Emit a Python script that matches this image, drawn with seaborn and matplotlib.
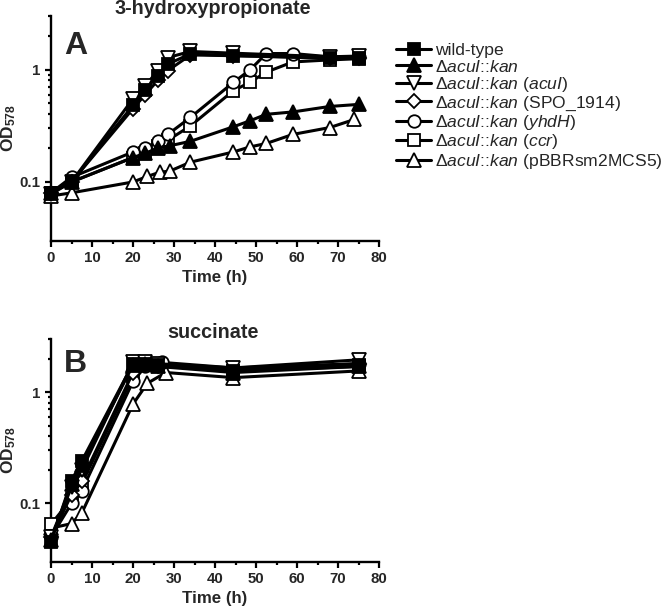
import numpy as np
import pandas as pd
import matplotlib
matplotlib.use("Agg")
import matplotlib.pyplot as plt
import matplotlib.ticker as mticker
import matplotlib.transforms as mtransforms
import seaborn as sns

# ---------------- data ----------------
labels = [
    "wild-type",
    "Δ$\\mathit{acuI}$::$\\mathit{kan}$",
    "Δ$\\mathit{acuI}$::$\\mathit{kan}$ ($\\mathit{acuI}$)",
    "Δ$\\mathit{acuI}$::$\\mathit{kan}$ (SPO_1914)",
    "Δ$\\mathit{acuI}$::$\\mathit{kan}$ ($\\mathit{yhdH}$)",
    "Δ$\\mathit{acuI}$::$\\mathit{kan}$ ($\\mathit{ccr}$)",
    "Δ$\\mathit{acuI}$::$\\mathit{kan}$ (pBBRsm2MCS5)",
]

# Panel A: 3-hydroxypropionate
a_wt_t = [0, 5, 20, 23, 26, 28.5, 34, 44.5, 68, 75]
a_wt_v = [0.08, 0.10, 0.48, 0.66, 0.88, 1.12, 1.38, 1.33, 1.26, 1.28]
a_kan_t = [0, 5, 20, 23, 26, 29, 34, 44.5, 48.5, 52.5, 59, 68, 75]
a_kan_v = [0.08, 0.10, 0.165, 0.18, 0.20, 0.21, 0.23, 0.31, 0.35, 0.40, 0.42, 0.47, 0.49]
a_acui_t = [0, 5, 20, 23, 26, 28.5, 34, 44.5, 68, 75]
a_acui_v = [0.078, 0.10, 0.55, 0.72, 0.97, 1.28, 1.45, 1.40, 1.30, 1.32]
a_spo_t = [0, 5, 20, 23, 26, 28.5, 34, 44.5, 68, 75]
a_spo_v = [0.08, 0.10, 0.45, 0.60, 0.80, 0.98, 1.35, 1.33, 1.28, 1.28]
a_yhdh_t = [0, 5, 20, 23, 26, 28.5, 34, 44.5, 48.5, 52.5, 59, 68, 75]
a_yhdh_v = [0.08, 0.11, 0.185, 0.20, 0.23, 0.265, 0.375, 0.77, 0.99, 1.39, 1.39, 1.30, 1.30]
a_ccr_t = [0, 5, 20, 23, 26, 28.5, 34, 44.5, 48.5, 52.5, 59, 68, 75]
a_ccr_v = [0.08, 0.10, 0.165, 0.18, 0.21, 0.235, 0.315, 0.65, 0.77, 0.95, 1.17, 1.22, 1.25]
a_pbbr_t = [0, 5, 20, 23.5, 26.5, 29, 34, 44.5, 48.5, 52.5, 59, 68, 74]
a_pbbr_v = [0.075, 0.08, 0.10, 0.112, 0.122, 0.125, 0.15, 0.185, 0.205, 0.22, 0.265, 0.305, 0.36]

# Panel B: succinate
b_wt_t = [0, 5, 7.5, 20, 23, 26, 44.5, 75]
b_wt_v = [0.045, 0.16, 0.24, 1.80, 1.80, 1.75, 1.55, 1.75]
b_kan_t = [0, 5, 7.5, 20, 23, 26, 44.5, 75]
b_kan_v = [0.047, 0.15, 0.22, 1.75, 1.80, 1.70, 1.50, 1.70]
b_acui_t = [0, 5, 7.5, 20, 23, 26, 44.5, 75]
b_acui_v = [0.05, 0.14, 0.20, 1.85, 1.85, 1.80, 1.65, 1.95]
b_spo_t = [0, 5, 7.5, 20, 23, 26, 44.5, 75]
b_spo_v = [0.05, 0.12, 0.16, 1.50, 1.75, 1.70, 1.60, 1.80]
b_yhdh_t = [0, 5, 7.5, 20, 23, 27, 44.5, 75]
b_yhdh_v = [0.05, 0.10, 0.13, 1.25, 1.70, 1.85, 1.65, 1.80]
b_ccr_t = [0, 5, 7.5, 20, 23, 26, 44.5, 75]
b_ccr_v = [0.065, 0.11, 0.15, 1.40, 1.75, 1.75, 1.55, 1.70]
b_pbbr_t = [0, 5, 7.5, 20, 23.5, 28, 44.5, 75]
b_pbbr_v = [0.06, 0.066, 0.082, 0.78, 1.20, 1.50, 1.35, 1.55]

panel_a = [(a_wt_t, a_wt_v), (a_kan_t, a_kan_v), (a_acui_t, a_acui_v),
           (a_spo_t, a_spo_v), (a_yhdh_t, a_yhdh_v), (a_ccr_t, a_ccr_v),
           (a_pbbr_t, a_pbbr_v)]
panel_b = [(b_wt_t, b_wt_v), (b_kan_t, b_kan_v), (b_acui_t, b_acui_v),
           (b_spo_t, b_spo_v), (b_yhdh_t, b_yhdh_v), (b_ccr_t, b_ccr_v),
           (b_pbbr_t, b_pbbr_v)]

markers = ["s", "^", "v", "D", "o", "s", "^"]
faces = ["black", "black", "white", "white", "white", "white", "white"]
msizes = [8.0, 9.5, 9.5, 7.0, 9.0, 8.0, 9.5]

# ---------------- style ----------------
sns.set_style("ticks")
plt.rcParams["font.family"] = ["Liberation Sans", "DejaVu Sans"]
plt.rcParams["mathtext.fontset"] = "custom"
plt.rcParams["mathtext.rm"] = "Liberation Sans"
plt.rcParams["mathtext.it"] = "Liberation Sans:italic"
plt.rcParams["mathtext.bf"] = "Liberation Sans:bold"

fig = plt.figure(figsize=(6.66, 6.15), dpi=100)
W, H = 666, 615
def axrect(l, t, r, b):
    return [l / W, 1 - b / H, (r - l) / W, (b - t) / H]

axA = fig.add_axes(axrect(51, 16, 379, 240.7))
axB = fig.add_axes(axrect(51, 339, 379, 561.7))

def draw(ax, series, title, letter, letter_y):
    for i, (t, v) in enumerate(series):
        df = pd.DataFrame({"t": t, "v": v})
        sns.lineplot(data=df, x="t", y="v", ax=ax, color="black",
                     marker=markers[i], markersize=msizes[i],
                     markerfacecolor=faces[i], markeredgecolor="black",
                     markeredgewidth=1.3, linewidth=2.2, label=labels[i],
                     estimator=None, sort=False, clip_on=False, zorder=3 + (6 - i))
    ax.set_yscale("log")
    ax.set_ylim(0.03, 3)
    ax.set_xlim(0, 80)
    ax.set_xticks(np.arange(0, 81, 10))
    ax.xaxis.set_minor_locator(mticker.FixedLocator(np.arange(5, 80, 10)))
    ax.set_yticks([0.1, 1])
    ax.set_yticklabels(["0.1", "1"])
    ax.yaxis.set_minor_locator(mticker.FixedLocator([0.2, 0.3, 0.4, 0.5, 0.6, 0.7, 0.8, 0.9, 2, 3]))
    ax.yaxis.set_minor_formatter(mticker.NullFormatter())
    for s in ["top", "right"]:
        ax.spines[s].set_visible(False)
    for s in ["left", "bottom"]:
        ax.spines[s].set_linewidth(1.7)
        ax.spines[s].set_color("black")
    ax.tick_params(which="major", length=4.5, width=1.6, color="black",
                   labelsize=10.8, pad=3)
    ax.tick_params(which="minor", length=2.5, width=1.6, color="black")
    for lab in ax.get_xticklabels() + ax.get_yticklabels():
        lab.set_fontweight("bold")
    ax.set_xlabel("Time (h)", fontsize=12.2, fontweight="bold")
    ax.xaxis.set_label_coords(0.5, -0.13)
    ax.xaxis.label.set_va("top")
    ax.set_ylabel("OD$_{\\mathbf{578}}$", fontsize=12.5, fontweight="bold")
    ax.yaxis.set_label_coords(-0.10, 0.5)
    off = mtransforms.offset_copy(ax.transAxes, fig=fig, x=-2, y=1.5, units="dots")
    ax.text(0.5, 1.0, title, transform=off, ha="center", va="baseline",
            fontsize=14.2, fontweight="bold")
    ax.text(0.04, letter_y, letter, transform=ax.transAxes, ha="left", va="top",
            fontsize=23, fontweight="bold")
    if ax.get_legend() is not None:
        ax.get_legend().remove()

draw(axA, panel_a, "3-hydroxypropionate", "A", 0.935)
draw(axB, panel_b, "succinate", "B", 0.955)

handles, labs = axA.get_legend_handles_labels()
fig.legend(handles, labs, loc="upper left", bbox_to_anchor=(396 / W, 1 - 43 / H),
           frameon=False, fontsize=12.6, handlelength=2.0, handletextpad=0.25,
           labelspacing=0.02, borderpad=0, borderaxespad=0)

fig.savefig("out.png", dpi=100)
